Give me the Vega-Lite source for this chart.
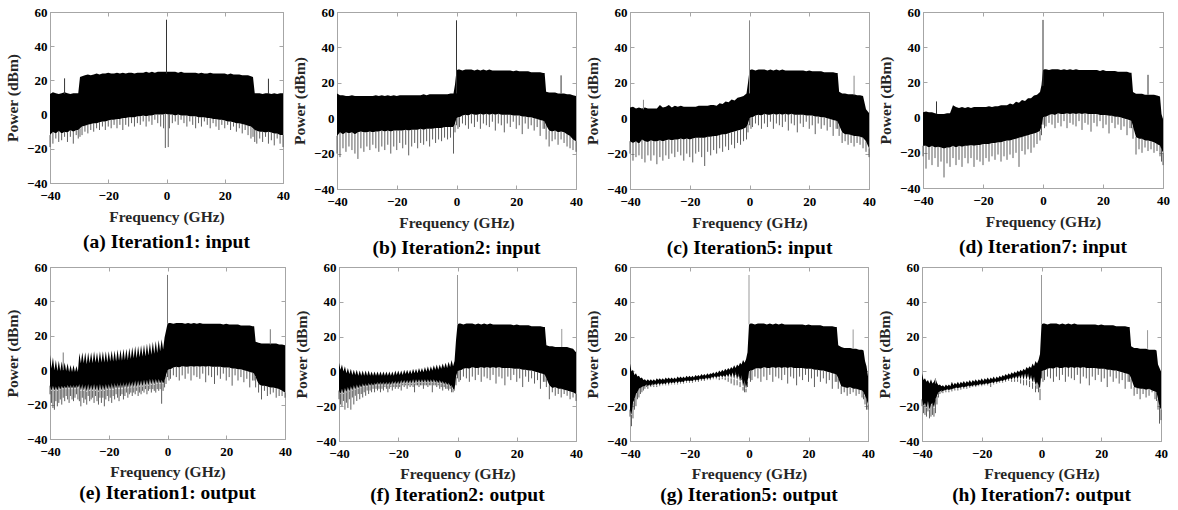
{
"$schema":"https://vega.github.io/schema/vega-lite/v6.json",
"padding":{"left":5,"top":5,"right":2,"bottom":0},
"config":{
 "view":{"stroke":"#a6a6a6","strokeWidth":1},
 "axis":{"labelFont":"Liberation Serif, Times New Roman, serif","labelFontWeight":"bold","labelFontSize":13,"labelColor":"#000","titleFont":"Liberation Serif, Times New Roman, serif","titleFontWeight":"bold","titleFontSize":15.5,"titleColor":"#262626","grid":false,"domainColor":"#a6a6a6","tickColor":"#a6a6a6","tickSize":-4,"labelFlush":false,"labelOverlap":false},
 "title":{"font":"Liberation Serif, Times New Roman, serif","fontSize":19.5,"fontWeight":"bold","color":"#000","offset":8}
},
"datasets":{
"tone":[
{"p":"a","f":0,"y1":24,"y2":55.5},{"p":"a","f":-35,"y1":12,"y2":21.2},{"p":"a","f":35,"y1":12,"y2":21},
{"p":"b","f":0,"y1":14,"y2":55.3},{"p":"b","f":35,"y1":14,"y2":24.2},
{"p":"c","f":0,"y1":14,"y2":55.3},{"p":"c","f":35,"y1":13,"y2":24},{"p":"c","f":-35.5,"y1":5,"y2":10.4},
{"p":"d","f":0,"y1":18,"y2":55.5},{"p":"d","f":35,"y1":13,"y2":24.3},{"p":"d","f":-35.5,"y1":2,"y2":9.2},
{"p":"e","f":0,"y1":27,"y2":55.4},{"p":"e","f":35,"y1":15,"y2":23.8},{"p":"e","f":-35.5,"y1":0,"y2":10.3},
{"p":"f","f":0,"y1":27,"y2":55.4},{"p":"f","f":35.2,"y1":14,"y2":24.4},
{"p":"g","f":0,"y1":27,"y2":55.4},{"p":"g","f":35,"y1":13,"y2":24.1},
{"p":"h","f":0,"y1":27,"y2":55.4},{"p":"h","f":35.5,"y1":13,"y2":23.7},{"p":"h","f":-35.5,"y1":-7,"y2":-4}
],
"band":[
{"p":"a","f":-40,"h":12,"l":-12,"s":-19},{"p":"a","f":-39,"h":13,"l":-10,"s":-17},{"p":"a","f":-38,"h":12.5,"l":-11,"s":-14},{"p":"a","f":-37,"h":12,"l":-9.5,"s":-16},{"p":"a","f":-36,"h":12.5,"l":-11,"s":-15},{"p":"a","f":-35,"h":13,"l":-10,"s":-13},{"p":"a","f":-34,"h":12.5,"l":-10.5,"s":-16},{"p":"a","f":-33,"h":12,"l":-9,"s":-13},{"p":"a","f":-32,"h":12.5,"l":-10,"s":-17},{"p":"a","f":-31,"h":12.5,"l":-9,"s":-12},{"p":"a","f":-30.3,"h":12.5,"l":-9,"s":-14},{"p":"a","f":-29.7,"h":22,"l":-8,"s":-13},{"p":"a","f":-29,"h":22.5,"l":-7,"s":-12},{"p":"a","f":-28,"h":23,"l":-6.5,"s":-10},{"p":"a","f":-27,"h":23.5,"l":-6,"s":-11},{"p":"a","f":-26,"h":23,"l":-5.5,"s":-9},{"p":"a","f":-25,"h":23.5,"l":-5,"s":-10},{"p":"a","f":-24,"h":24,"l":-5,"s":-8},{"p":"a","f":-23,"h":23.5,"l":-4.5,"s":-9},{"p":"a","f":-22,"h":24,"l":-4,"s":-7},{"p":"a","f":-21,"h":24,"l":-4,"s":-9},{"p":"a","f":-20,"h":24.5,"l":-3.5,"s":-7},{"p":"a","f":-19,"h":24,"l":-3,"s":-8},{"p":"a","f":-18,"h":24,"l":-3,"s":-6},{"p":"a","f":-17,"h":24.5,"l":-2.5,"s":-8},{"p":"a","f":-16,"h":24,"l":-2.5,"s":-6},{"p":"a","f":-15,"h":24.5,"l":-2,"s":-9},{"p":"a","f":-14,"h":24,"l":-2,"s":-6},{"p":"a","f":-13,"h":24.5,"l":-1.5,"s":-7},{"p":"a","f":-12,"h":24.5,"l":-1.5,"s":-5},{"p":"a","f":-11,"h":24,"l":-1.5,"s":-7},{"p":"a","f":-10,"h":24.5,"l":-1,"s":-5},{"p":"a","f":-9,"h":24.5,"l":-1,"s":-6},{"p":"a","f":-8,"h":24.5,"l":-0.5,"s":-4},{"p":"a","f":-7,"h":25,"l":-1,"s":-7},{"p":"a","f":-6,"h":24.5,"l":-0.5,"s":-4},{"p":"a","f":-5,"h":25,"l":-0.5,"s":-6},{"p":"a","f":-4,"h":24.5,"l":0,"s":-3},{"p":"a","f":-3,"h":25,"l":0,"s":-5},{"p":"a","f":-2,"h":25,"l":0,"s":-7},{"p":"a","f":-1,"h":25,"l":0,"s":-8},{"p":"a","f":-0.4,"h":25,"l":0.5,"s":-19.5},{"p":"a","f":0.6,"h":25,"l":0,"s":-19},{"p":"a","f":1,"h":25,"l":0,"s":-8},{"p":"a","f":2,"h":25,"l":0,"s":-5},{"p":"a","f":3,"h":25,"l":-0.5,"s":-4},{"p":"a","f":4,"h":24.5,"l":0,"s":-6},{"p":"a","f":5,"h":25,"l":-0.5,"s":-3},{"p":"a","f":6,"h":24.5,"l":-0.5,"s":-5},{"p":"a","f":7,"h":24.5,"l":-0.5,"s":-7},{"p":"a","f":8,"h":24.5,"l":-1,"s":-4},{"p":"a","f":9,"h":24.5,"l":-1,"s":-6},{"p":"a","f":10,"h":24.5,"l":-1,"s":-8},{"p":"a","f":11,"h":24,"l":-1.5,"s":-5},{"p":"a","f":12,"h":24.5,"l":-1.5,"s":-7},{"p":"a","f":13,"h":24,"l":-1.5,"s":-4},{"p":"a","f":14,"h":24,"l":-2,"s":-6},{"p":"a","f":15,"h":24.5,"l":-2,"s":-8},{"p":"a","f":16,"h":24,"l":-2.5,"s":-5},{"p":"a","f":17,"h":24,"l":-2.5,"s":-7},{"p":"a","f":18,"h":24,"l":-3,"s":-9},{"p":"a","f":19,"h":24,"l":-3,"s":-6},{"p":"a","f":20,"h":24,"l":-3.5,"s":-8},{"p":"a","f":21,"h":23.5,"l":-4,"s":-6},{"p":"a","f":22,"h":24,"l":-4,"s":-9},{"p":"a","f":23,"h":23.5,"l":-4.5,"s":-7},{"p":"a","f":24,"h":23.5,"l":-5,"s":-10},{"p":"a","f":25,"h":23.5,"l":-5,"s":-8},{"p":"a","f":26,"h":23,"l":-5.5,"s":-11},{"p":"a","f":27,"h":23,"l":-6,"s":-9},{"p":"a","f":28,"h":23,"l":-6.5,"s":-12},{"p":"a","f":29,"h":22.5,"l":-7,"s":-14},{"p":"a","f":29.7,"h":22,"l":-8,"s":-13},{"p":"a","f":30.3,"h":12.5,"l":-9,"s":-16},{"p":"a","f":31,"h":12.5,"l":-9.5,"s":-17},{"p":"a","f":32,"h":12.5,"l":-10,"s":-14},{"p":"a","f":33,"h":12,"l":-10,"s":-16},{"p":"a","f":34,"h":12.5,"l":-10.5,"s":-13},{"p":"a","f":35,"h":12.5,"l":-10,"s":-17},{"p":"a","f":36,"h":12,"l":-10.5,"s":-15},{"p":"a","f":37,"h":12.5,"l":-11,"s":-18},{"p":"a","f":38,"h":12,"l":-11,"s":-14},{"p":"a","f":39,"h":12.5,"l":-12,"s":-17},{"p":"a","f":40,"h":12.5,"l":-12,"s":-19},

{"p":"z","f":0,"h":27,"l":0,"s":-4},{"p":"z","f":0.5,"h":27.5,"l":0.5,"s":-6},{"p":"z","f":1,"h":27.5,"l":0.5,"s":-5},{"p":"z","f":2,"h":27,"l":1.5,"s":-3},{"p":"z","f":3,"h":27.5,"l":2,"s":-4},{"p":"z","f":4,"h":27.5,"l":1.5,"s":-6},{"p":"z","f":5,"h":27.5,"l":2.5,"s":-3},{"p":"z","f":6,"h":27,"l":2,"s":-5},{"p":"z","f":7,"h":27.5,"l":2,"s":-2},{"p":"z","f":8,"h":27,"l":2.5,"s":-6},{"p":"z","f":9,"h":27.5,"l":2,"s":-3},{"p":"z","f":10,"h":27,"l":2.5,"s":-4},{"p":"z","f":11,"h":27.5,"l":2,"s":-5},{"p":"z","f":12,"h":27,"l":2.5,"s":-2},{"p":"z","f":13,"h":27,"l":2,"s":-7},{"p":"z","f":14,"h":27,"l":2.5,"s":-3},{"p":"z","f":15,"h":27,"l":2,"s":-4},{"p":"z","f":16,"h":27,"l":2,"s":-8},{"p":"z","f":17,"h":27,"l":2,"s":-3},{"p":"z","f":18,"h":27,"l":2,"s":-5},{"p":"z","f":19,"h":26.5,"l":1.5,"s":-2},{"p":"z","f":20,"h":27,"l":1.5,"s":-6},{"p":"z","f":21,"h":26.5,"l":1.5,"s":-4},{"p":"z","f":22,"h":26.5,"l":1,"s":-9},{"p":"z","f":23,"h":26.5,"l":1,"s":-3},{"p":"z","f":24,"h":26.5,"l":0.5,"s":-6},{"p":"z","f":25,"h":26,"l":0.5,"s":-4},{"p":"z","f":26,"h":26,"l":0,"s":-7},{"p":"z","f":27,"h":26,"l":-0.5,"s":-5},{"p":"z","f":28,"h":26,"l":-1,"s":-10},{"p":"z","f":29,"h":25.5,"l":-1.5,"s":-6},{"p":"z","f":29.5,"h":25.5,"l":-2,"s":-6},

{"p":"b","f":-40,"h":14,"l":-10,"s":-20},{"p":"b","f":-39,"h":13,"l":-8,"s":-22},{"p":"b","f":-38,"h":13,"l":-9,"s":-17},{"p":"b","f":-37,"h":12.5,"l":-8,"s":-19},{"p":"b","f":-36,"h":12.5,"l":-8.5,"s":-16},{"p":"b","f":-35,"h":13,"l":-8,"s":-18},{"p":"b","f":-34,"h":12.5,"l":-9,"s":-20},{"p":"b","f":-33,"h":12.5,"l":-8,"s":-23},{"p":"b","f":-32,"h":12.5,"l":-7.5,"s":-17},{"p":"b","f":-31,"h":12.5,"l":-8,"s":-19},{"p":"b","f":-30,"h":12.5,"l":-8,"s":-16},{"p":"b","f":-29,"h":12.5,"l":-7.5,"s":-18},{"p":"b","f":-28,"h":12.5,"l":-8,"s":-15},{"p":"b","f":-27,"h":13,"l":-7.5,"s":-17},{"p":"b","f":-26,"h":12.5,"l":-7.5,"s":-19},{"p":"b","f":-25,"h":13,"l":-7,"s":-16},{"p":"b","f":-24,"h":12.5,"l":-7.5,"s":-18},{"p":"b","f":-23,"h":13,"l":-7,"s":-15},{"p":"b","f":-22,"h":12.5,"l":-7.5,"s":-20},{"p":"b","f":-21,"h":13,"l":-7,"s":-16},{"p":"b","f":-20,"h":12.5,"l":-7,"s":-18},{"p":"b","f":-19,"h":13,"l":-7,"s":-14},{"p":"b","f":-18,"h":13,"l":-7,"s":-17},{"p":"b","f":-17,"h":13,"l":-6.5,"s":-15},{"p":"b","f":-16,"h":13,"l":-7,"s":-21},{"p":"b","f":-15,"h":13,"l":-6.5,"s":-16},{"p":"b","f":-14,"h":13,"l":-6.5,"s":-14},{"p":"b","f":-13,"h":13,"l":-6.5,"s":-17},{"p":"b","f":-12,"h":13,"l":-6,"s":-14},{"p":"b","f":-11,"h":13.5,"l":-6.5,"s":-15},{"p":"b","f":-10,"h":13,"l":-6,"s":-13},{"p":"b","f":-9,"h":13.5,"l":-6,"s":-16},{"p":"b","f":-8,"h":13.5,"l":-6,"s":-12},{"p":"b","f":-7,"h":13.5,"l":-5.5,"s":-14},{"p":"b","f":-6,"h":13.5,"l":-5.5,"s":-12},{"p":"b","f":-5,"h":13.5,"l":-5.5,"s":-13},{"p":"b","f":-4,"h":13.5,"l":-5,"s":-11},{"p":"b","f":-3,"h":13.5,"l":-5,"s":-12},{"p":"b","f":-2,"h":14,"l":-5,"s":-11},{"p":"b","f":-1,"h":14,"l":-5,"s":-20},{"p":"b","f":-0.5,"h":19,"l":-3,"s":-8},
{"p":"b","f":30,"h":15,"l":-4,"s":-12},{"p":"b","f":31,"h":14.5,"l":-7,"s":-16},{"p":"b","f":32,"h":14.5,"l":-7.5,"s":-13},{"p":"b","f":33,"h":14.5,"l":-7,"s":-12},{"p":"b","f":34,"h":14,"l":-8,"s":-15},{"p":"b","f":35,"h":14,"l":-7.5,"s":-12},{"p":"b","f":36,"h":14,"l":-8,"s":-14},{"p":"b","f":37,"h":13.5,"l":-9,"s":-16},{"p":"b","f":38,"h":13.5,"l":-10,"s":-17},{"p":"b","f":39,"h":13,"l":-12,"s":-18},{"p":"b","f":40,"h":12.5,"l":-13,"s":-19},

{"p":"c","f":-40,"h":6,"l":-13,"s":-20},{"p":"c","f":-39,"h":6.5,"l":-14,"s":-24},{"p":"c","f":-38,"h":5.5,"l":-13,"s":-22},{"p":"c","f":-37,"h":6,"l":-14.5,"s":-21},{"p":"c","f":-36,"h":5.5,"l":-12,"s":-23},{"p":"c","f":-35,"h":6,"l":-13,"s":-25},{"p":"c","f":-34,"h":5.5,"l":-13.5,"s":-21},{"p":"c","f":-33,"h":5.5,"l":-12.5,"s":-24},{"p":"c","f":-32,"h":5.5,"l":-13,"s":-21},{"p":"c","f":-31,"h":5.5,"l":-13,"s":-26},{"p":"c","f":-30,"h":7.5,"l":-12.5,"s":-22},{"p":"c","f":-29,"h":6,"l":-13,"s":-24},{"p":"c","f":-28,"h":6.5,"l":-12.5,"s":-21},{"p":"c","f":-27,"h":7.5,"l":-12,"s":-23},{"p":"c","f":-26,"h":6,"l":-12.5,"s":-20},{"p":"c","f":-25,"h":7,"l":-12,"s":-22},{"p":"c","f":-24,"h":6.5,"l":-12,"s":-19},{"p":"c","f":-23,"h":7,"l":-11.5,"s":-21},{"p":"c","f":-22,"h":6.5,"l":-12,"s":-24},{"p":"c","f":-21,"h":6.5,"l":-11.5,"s":-20},{"p":"c","f":-20,"h":6.5,"l":-12,"s":-22},{"p":"c","f":-19,"h":6.5,"l":-11.5,"s":-25},{"p":"c","f":-18,"h":6.5,"l":-11,"s":-20},{"p":"c","f":-17,"h":7,"l":-11,"s":-19},{"p":"c","f":-16,"h":7,"l":-11,"s":-22},{"p":"c","f":-15,"h":7,"l":-11,"s":-27},{"p":"c","f":-14,"h":7,"l":-10.5,"s":-19},{"p":"c","f":-13,"h":7.5,"l":-10.5,"s":-21},{"p":"c","f":-12,"h":7.5,"l":-10,"s":-18},{"p":"c","f":-11,"h":7,"l":-10,"s":-20},{"p":"c","f":-10,"h":8.5,"l":-9.5,"s":-17},{"p":"c","f":-9,"h":8,"l":-9,"s":-19},{"p":"c","f":-8,"h":9.5,"l":-9,"s":-16},{"p":"c","f":-7,"h":9,"l":-8.5,"s":-18},{"p":"c","f":-6,"h":10.5,"l":-8,"s":-15},{"p":"c","f":-5,"h":10,"l":-7.5,"s":-17},{"p":"c","f":-4,"h":11.5,"l":-7,"s":-14},{"p":"c","f":-3,"h":12,"l":-6.5,"s":-15},{"p":"c","f":-2,"h":12.5,"l":-6,"s":-13},{"p":"c","f":-1,"h":14,"l":-5,"s":-12},{"p":"c","f":-0.5,"h":20,"l":-3,"s":-8},
{"p":"c","f":30,"h":15,"l":-4,"s":-10},{"p":"c","f":31,"h":14,"l":-8,"s":-14},{"p":"c","f":32,"h":14,"l":-9,"s":-13},{"p":"c","f":33,"h":13.5,"l":-9,"s":-15},{"p":"c","f":34,"h":13.5,"l":-9.5,"s":-14},{"p":"c","f":35,"h":13.5,"l":-10,"s":-16},{"p":"c","f":36,"h":13,"l":-10,"s":-14},{"p":"c","f":37,"h":13,"l":-10.5,"s":-15},{"p":"c","f":38,"h":12.5,"l":-11,"s":-17},{"p":"c","f":39,"h":5,"l":-13,"s":-19},{"p":"c","f":40,"h":3,"l":-17,"s":-22},

{"p":"d","f":-40,"h":3,"l":-16,"s":-22},{"p":"d","f":-39,"h":3.5,"l":-16,"s":-29},{"p":"d","f":-38,"h":3,"l":-17,"s":-24},{"p":"d","f":-37,"h":3,"l":-16,"s":-27},{"p":"d","f":-36,"h":2.5,"l":-17,"s":-23},{"p":"d","f":-35,"h":2,"l":-16.5,"s":-28},{"p":"d","f":-34,"h":2,"l":-17,"s":-25},{"p":"d","f":-33,"h":2,"l":-17.5,"s":-34},{"p":"d","f":-32,"h":2.5,"l":-17,"s":-26},{"p":"d","f":-31,"h":2.5,"l":-17,"s":-28},{"p":"d","f":-30,"h":7,"l":-16,"s":-23},{"p":"d","f":-29,"h":6,"l":-17,"s":-27},{"p":"d","f":-28,"h":5.5,"l":-16,"s":-24},{"p":"d","f":-27,"h":6,"l":-16.5,"s":-28},{"p":"d","f":-26,"h":5.5,"l":-16,"s":-23},{"p":"d","f":-25,"h":6,"l":-16,"s":-26},{"p":"d","f":-24,"h":5.5,"l":-15.5,"s":-23},{"p":"d","f":-23,"h":6,"l":-16,"s":-28},{"p":"d","f":-22,"h":6,"l":-15.5,"s":-24},{"p":"d","f":-21,"h":6,"l":-15.5,"s":-25},{"p":"d","f":-20,"h":6,"l":-15,"s":-27},{"p":"d","f":-19,"h":6,"l":-15,"s":-23},{"p":"d","f":-18,"h":6.5,"l":-15,"s":-25},{"p":"d","f":-17,"h":6,"l":-14.5,"s":-22},{"p":"d","f":-16,"h":6.5,"l":-14.5,"s":-24},{"p":"d","f":-15,"h":6.5,"l":-14,"s":-21},{"p":"d","f":-14,"h":7,"l":-14,"s":-25},{"p":"d","f":-13,"h":7,"l":-13.5,"s":-22},{"p":"d","f":-12,"h":7,"l":-13,"s":-24},{"p":"d","f":-11,"h":8,"l":-13,"s":-21},{"p":"d","f":-10,"h":7.5,"l":-12.5,"s":-23},{"p":"d","f":-9,"h":9,"l":-12,"s":-20},{"p":"d","f":-8,"h":8.5,"l":-11.5,"s":-28},{"p":"d","f":-7,"h":10,"l":-11,"s":-19},{"p":"d","f":-6,"h":9.5,"l":-10.5,"s":-21},{"p":"d","f":-5,"h":11,"l":-10,"s":-18},{"p":"d","f":-4,"h":11,"l":-9.5,"s":-20},{"p":"d","f":-3,"h":12.5,"l":-9,"s":-17},{"p":"d","f":-2,"h":13,"l":-8.5,"s":-15},{"p":"d","f":-1,"h":14.5,"l":-7.5,"s":-13},{"p":"d","f":-0.5,"h":18.5,"l":-5,"s":-10},
{"p":"d","f":30,"h":14.5,"l":-5,"s":-12},{"p":"d","f":31,"h":13.5,"l":-11,"s":-21},{"p":"d","f":32,"h":13.5,"l":-12,"s":-18},{"p":"d","f":33,"h":13.5,"l":-12,"s":-20},{"p":"d","f":34,"h":13,"l":-13,"s":-17},{"p":"d","f":35,"h":13,"l":-13,"s":-19},{"p":"d","f":36,"h":13,"l":-13.5,"s":-18},{"p":"d","f":37,"h":13,"l":-14,"s":-20},{"p":"d","f":38,"h":12.5,"l":-15,"s":-19},{"p":"d","f":39,"h":12,"l":-16,"s":-22},{"p":"d","f":39.5,"h":2,"l":-18,"s":-25},{"p":"d","f":40,"h":-1,"l":-20,"s":-27},

{"p":"e","f":-40,"h":9,"l":-9,"s":-14},{"p":"e","f":-39.5,"h":1,"l":-12,"s":-19},{"p":"e","f":-39,"h":7.5,"l":-9,"s":-22},{"p":"e","f":-38.5,"h":0,"l":-12,"s":-23},{"p":"e","f":-38,"h":6,"l":-9.5,"s":-18},{"p":"e","f":-37.5,"h":-0.5,"l":-12,"s":-21},{"p":"e","f":-37,"h":5.5,"l":-9,"s":-19},{"p":"e","f":-36.5,"h":-0.5,"l":-11.5,"s":-17},{"p":"e","f":-36,"h":5,"l":-9,"s":-20},{"p":"e","f":-35.5,"h":0,"l":-11,"s":-16},{"p":"e","f":-35,"h":4.5,"l":-9,"s":-18},{"p":"e","f":-34.5,"h":-0.5,"l":-11,"s":-15},{"p":"e","f":-34,"h":4,"l":-8.5,"s":-17},{"p":"e","f":-33.5,"h":-1,"l":-11,"s":-19},{"p":"e","f":-33,"h":3,"l":-8.5,"s":-15},{"p":"e","f":-32.5,"h":-1,"l":-11,"s":-17},{"p":"e","f":-32,"h":3,"l":-8.5,"s":-18},{"p":"e","f":-31.5,"h":-1,"l":-11,"s":-16},{"p":"e","f":-31,"h":2.5,"l":-8.5,"s":-14},{"p":"e","f":-30.5,"h":-1,"l":-10.5,"s":-17},{"p":"e","f":-30,"h":10,"l":-8,"s":-18},{"p":"e","f":-29.5,"h":4,"l":-12,"s":-21},{"p":"e","f":-29,"h":10.5,"l":-8,"s":-16},{"p":"e","f":-28.5,"h":4,"l":-12,"s":-19},{"p":"e","f":-28,"h":10.5,"l":-8.5,"s":-17},{"p":"e","f":-27.5,"h":3.5,"l":-12.5,"s":-20},{"p":"e","f":-27,"h":10.5,"l":-8,"s":-15},{"p":"e","f":-26.5,"h":4,"l":-12,"s":-18},{"p":"e","f":-26,"h":10.5,"l":-8.5,"s":-17},{"p":"e","f":-25.5,"h":4,"l":-12,"s":-16},{"p":"e","f":-25,"h":11,"l":-8,"s":-19},{"p":"e","f":-24.5,"h":4.5,"l":-12,"s":-15},{"p":"e","f":-24,"h":10.5,"l":-8.5,"s":-18},{"p":"e","f":-23.5,"h":4,"l":-12.5,"s":-20},{"p":"e","f":-23,"h":11,"l":-8,"s":-16},{"p":"e","f":-22.5,"h":4.5,"l":-12,"s":-19},{"p":"e","f":-22,"h":11,"l":-8.5,"s":-16},{"p":"e","f":-21.5,"h":4.5,"l":-12,"s":-21},{"p":"e","f":-21,"h":11,"l":-8,"s":-17},{"p":"e","f":-20.5,"h":4.5,"l":-11.5,"s":-15},{"p":"e","f":-20,"h":11,"l":-8,"s":-18},{"p":"e","f":-19.5,"h":5,"l":-11.5,"s":-16},{"p":"e","f":-19,"h":11.5,"l":-7.5,"s":-19},{"p":"e","f":-18.5,"h":5,"l":-11.5,"s":-15},{"p":"e","f":-18,"h":11.5,"l":-7.5,"s":-17},{"p":"e","f":-17.5,"h":5,"l":-11,"s":-14},{"p":"e","f":-17,"h":12,"l":-7.5,"s":-16},{"p":"e","f":-16.5,"h":5.5,"l":-11,"s":-18},{"p":"e","f":-16,"h":12,"l":-7,"s":-15},{"p":"e","f":-15.5,"h":5.5,"l":-11,"s":-14},{"p":"e","f":-15,"h":12.5,"l":-7,"s":-17},{"p":"e","f":-14.5,"h":6,"l":-10.5,"s":-15},{"p":"e","f":-14,"h":12.5,"l":-7,"s":-13},{"p":"e","f":-13.5,"h":6,"l":-10.5,"s":-16},{"p":"e","f":-13,"h":13,"l":-6.5,"s":-14},{"p":"e","f":-12.5,"h":6.5,"l":-10,"s":-13},{"p":"e","f":-12,"h":13.5,"l":-6.5,"s":-15},{"p":"e","f":-11.5,"h":7,"l":-10,"s":-13},{"p":"e","f":-11,"h":14,"l":-6,"s":-14},{"p":"e","f":-10.5,"h":7,"l":-10,"s":-12},{"p":"e","f":-10,"h":14,"l":-6,"s":-15},{"p":"e","f":-9.5,"h":7.5,"l":-9.5,"s":-13},{"p":"e","f":-9,"h":14.5,"l":-6,"s":-14},{"p":"e","f":-8.5,"h":8,"l":-9.5,"s":-12},{"p":"e","f":-8,"h":15,"l":-5.5,"s":-13},{"p":"e","f":-7.5,"h":8,"l":-9,"s":-11},{"p":"e","f":-7,"h":15.5,"l":-5.5,"s":-14},{"p":"e","f":-6.5,"h":8.5,"l":-9,"s":-12},{"p":"e","f":-6,"h":16,"l":-5,"s":-11},{"p":"e","f":-5.5,"h":9,"l":-8.5,"s":-13},{"p":"e","f":-5,"h":16.5,"l":-5,"s":-11},{"p":"e","f":-4.5,"h":9.5,"l":-8.5,"s":-12},{"p":"e","f":-4,"h":17,"l":-5,"s":-13},{"p":"e","f":-3.5,"h":10,"l":-8,"s":-11},{"p":"e","f":-3,"h":17.5,"l":-5,"s":-12},{"p":"e","f":-2.5,"h":11,"l":-8,"s":-11},{"p":"e","f":-2,"h":18,"l":-5.5,"s":-19.5},{"p":"e","f":-1.5,"h":12,"l":-8,"s":-12},{"p":"e","f":-1,"h":19,"l":-6,"s":-10},{"p":"e","f":-0.5,"h":23,"l":-3,"s":-8},
{"p":"e","f":30,"h":16.5,"l":-4,"s":-10},{"p":"e","f":31,"h":16,"l":-8,"s":-13},{"p":"e","f":32,"h":15.5,"l":-9,"s":-17},{"p":"e","f":33,"h":15.5,"l":-9,"s":-12},{"p":"e","f":34,"h":15.5,"l":-9.5,"s":-15},{"p":"e","f":35,"h":15.5,"l":-10,"s":-14},{"p":"e","f":36,"h":15.5,"l":-10,"s":-13},{"p":"e","f":37,"h":15.5,"l":-10.5,"s":-16},{"p":"e","f":38,"h":15,"l":-11,"s":-15},{"p":"e","f":39,"h":15,"l":-12,"s":-15},{"p":"e","f":40,"h":14.5,"l":-13,"s":-16},

{"p":"f","f":-40,"h":5,"l":-11,"s":-16},{"p":"f","f":-39.5,"h":1,"l":-13,"s":-19},{"p":"f","f":-39,"h":4,"l":-10,"s":-20},{"p":"f","f":-38.5,"h":0,"l":-13,"s":-17},{"p":"f","f":-38,"h":3,"l":-9.5,"s":-22},{"p":"f","f":-37.5,"h":-1,"l":-12,"s":-18},{"p":"f","f":-37,"h":2,"l":-9,"s":-21},{"p":"f","f":-36.5,"h":-1.5,"l":-11.5,"s":-16},{"p":"f","f":-36,"h":1.5,"l":-8.5,"s":-22},{"p":"f","f":-35.5,"h":-2,"l":-11,"s":-15},{"p":"f","f":-35,"h":1,"l":-8,"s":-19},{"p":"f","f":-34.5,"h":-2,"l":-10.5,"s":-14},{"p":"f","f":-34,"h":1,"l":-7.5,"s":-17},{"p":"f","f":-33.5,"h":-2.5,"l":-10,"s":-13},{"p":"f","f":-33,"h":0.5,"l":-7.5,"s":-16},{"p":"f","f":-32.5,"h":-2.5,"l":-9.5,"s":-13},{"p":"f","f":-32,"h":0.5,"l":-7,"s":-15},{"p":"f","f":-31.5,"h":-2.5,"l":-9,"s":-12},{"p":"f","f":-31,"h":0.5,"l":-7,"s":-14},{"p":"f","f":-30.5,"h":-2.5,"l":-9,"s":-11},{"p":"f","f":-30,"h":0.5,"l":-6.5,"s":-13},{"p":"f","f":-29.5,"h":-2.5,"l":-8.5,"s":-11},{"p":"f","f":-29,"h":0,"l":-6.5,"s":-12},{"p":"f","f":-28.5,"h":-2.5,"l":-8.5,"s":-10},{"p":"f","f":-28,"h":0,"l":-6.5,"s":-12},{"p":"f","f":-27.5,"h":-2.5,"l":-8,"s":-10},{"p":"f","f":-27,"h":0,"l":-6,"s":-11},{"p":"f","f":-26.5,"h":-2.5,"l":-8,"s":-10},{"p":"f","f":-26,"h":0,"l":-6,"s":-12},{"p":"f","f":-25.5,"h":-2.5,"l":-8,"s":-10},{"p":"f","f":-25,"h":0,"l":-6,"s":-11},{"p":"f","f":-24.5,"h":-2.5,"l":-8,"s":-9},{"p":"f","f":-24,"h":0,"l":-6,"s":-10},{"p":"f","f":-23.5,"h":-2.5,"l":-8,"s":-12},{"p":"f","f":-23,"h":0,"l":-6,"s":-10},{"p":"f","f":-22.5,"h":-2.5,"l":-8,"s":-9},{"p":"f","f":-22,"h":0,"l":-5.5,"s":-11},{"p":"f","f":-21.5,"h":-2.5,"l":-7.5,"s":-9},{"p":"f","f":-21,"h":0.5,"l":-5.5,"s":-10},{"p":"f","f":-20.5,"h":-2,"l":-7.5,"s":-9},{"p":"f","f":-20,"h":0.5,"l":-5.5,"s":-10},{"p":"f","f":-19.5,"h":-2,"l":-7.5,"s":-9},{"p":"f","f":-19,"h":0.5,"l":-5,"s":-11},{"p":"f","f":-18.5,"h":-2,"l":-7,"s":-8},{"p":"f","f":-18,"h":1,"l":-5,"s":-9},{"p":"f","f":-17.5,"h":-1.5,"l":-7,"s":-8},{"p":"f","f":-17,"h":1,"l":-5,"s":-10},{"p":"f","f":-16.5,"h":-1.5,"l":-7,"s":-8},{"p":"f","f":-16,"h":1,"l":-5,"s":-9},{"p":"f","f":-15.5,"h":-1.5,"l":-7,"s":-8},{"p":"f","f":-15,"h":1.5,"l":-4.5,"s":-9},{"p":"f","f":-14.5,"h":-1,"l":-7,"s":-12},{"p":"f","f":-14,"h":1.5,"l":-4.5,"s":-8},{"p":"f","f":-13.5,"h":-1,"l":-6.5,"s":-8},{"p":"f","f":-13,"h":2,"l":-4.5,"s":-9},{"p":"f","f":-12.5,"h":-0.5,"l":-6.5,"s":-8},{"p":"f","f":-12,"h":2,"l":-4.5,"s":-8},{"p":"f","f":-11.5,"h":-0.5,"l":-6.5,"s":-10},{"p":"f","f":-11,"h":2.5,"l":-4.5,"s":-8},{"p":"f","f":-10.5,"h":0,"l":-6.5,"s":-8},{"p":"f","f":-10,"h":3,"l":-4.5,"s":-9},{"p":"f","f":-9.5,"h":0,"l":-6.5,"s":-8},{"p":"f","f":-9,"h":3,"l":-4.5,"s":-8},{"p":"f","f":-8.5,"h":0.5,"l":-6.5,"s":-12},{"p":"f","f":-8,"h":3.5,"l":-4.5,"s":-8},{"p":"f","f":-7.5,"h":1,"l":-6.5,"s":-8},{"p":"f","f":-7,"h":4,"l":-5,"s":-9},{"p":"f","f":-6.5,"h":1,"l":-7,"s":-8},{"p":"f","f":-6,"h":4,"l":-5,"s":-10},{"p":"f","f":-5.5,"h":1.5,"l":-7,"s":-9},{"p":"f","f":-5,"h":4.5,"l":-5.5,"s":-11},{"p":"f","f":-4.5,"h":2,"l":-7.5,"s":-9},{"p":"f","f":-4,"h":5,"l":-6,"s":-10},{"p":"f","f":-3.5,"h":2,"l":-8,"s":-10},{"p":"f","f":-3,"h":5.5,"l":-6.5,"s":-11},{"p":"f","f":-2.5,"h":2.5,"l":-8.5,"s":-10},{"p":"f","f":-2,"h":6.5,"l":-8,"s":-12},{"p":"f","f":-1.5,"h":3,"l":-10,"s":-12},{"p":"f","f":-1,"h":6,"l":-10.5,"s":-11},{"p":"f","f":-0.5,"h":18,"l":-3,"s":-8},
{"p":"f","f":30,"h":15,"l":-4,"s":-9},{"p":"f","f":31,"h":14.5,"l":-8,"s":-16},{"p":"f","f":32,"h":14.5,"l":-9.5,"s":-12},{"p":"f","f":33,"h":14,"l":-9,"s":-14},{"p":"f","f":34,"h":14,"l":-10,"s":-13},{"p":"f","f":35,"h":14,"l":-10,"s":-15},{"p":"f","f":36,"h":14,"l":-10.5,"s":-13},{"p":"f","f":37,"h":14,"l":-11,"s":-14},{"p":"f","f":38,"h":13.5,"l":-11.5,"s":-16},{"p":"f","f":39,"h":13,"l":-12,"s":-15},{"p":"f","f":40,"h":11,"l":-13,"s":-17},

{"p":"g","f":-40,"h":4.5,"l":-22,"s":-26},{"p":"g","f":-39.5,"h":0,"l":-25,"s":-31.5},{"p":"g","f":-39,"h":1,"l":-18,"s":-27},{"p":"g","f":-38.5,"h":-2,"l":-16,"s":-22},{"p":"g","f":-38,"h":-1,"l":-13,"s":-20},{"p":"g","f":-37.5,"h":-3,"l":-12,"s":-16},{"p":"g","f":-37,"h":-2.5,"l":-10,"s":-15},{"p":"g","f":-36.5,"h":-4,"l":-9.5,"s":-13},{"p":"g","f":-36,"h":-3.5,"l":-9,"s":-12},{"p":"g","f":-35.5,"h":-5,"l":-8.5,"s":-11},{"p":"g","f":-35,"h":-4.5,"l":-8.5,"s":-10},{"p":"g","f":-34.5,"h":-5.5,"l":-7.5,"s":-9},{"p":"g","f":-34,"h":-4.5,"l":-8.5,"s":-10},{"p":"g","f":-33.5,"h":-5.5,"l":-7.5,"s":-8},{"p":"g","f":-33,"h":-4.5,"l":-8.5,"s":-9},{"p":"g","f":-32.5,"h":-5.5,"l":-7,"s":-8},{"p":"g","f":-32,"h":-4.5,"l":-8,"s":-9},{"p":"g","f":-31.5,"h":-5.5,"l":-7,"s":-7.5},{"p":"g","f":-31,"h":-4,"l":-8,"s":-9},{"p":"g","f":-30.5,"h":-5,"l":-6.5,"s":-7},{"p":"g","f":-30,"h":-4,"l":-8,"s":-8.5},{"p":"g","f":-29.5,"h":-5,"l":-6.5,"s":-7},{"p":"g","f":-29,"h":-4,"l":-7.5,"s":-8},{"p":"g","f":-28.5,"h":-5,"l":-6.5,"s":-7},{"p":"g","f":-28,"h":-3.5,"l":-7.5,"s":-8},{"p":"g","f":-27.5,"h":-4.5,"l":-6,"s":-6.5},{"p":"g","f":-27,"h":-3.5,"l":-7.5,"s":-8},{"p":"g","f":-26.5,"h":-4.5,"l":-6,"s":-6.5},{"p":"g","f":-26,"h":-3.5,"l":-7,"s":-7.5},{"p":"g","f":-25.5,"h":-4.5,"l":-6,"s":-6.5},{"p":"g","f":-25,"h":-3.5,"l":-7,"s":-7.5},{"p":"g","f":-24.5,"h":-4.5,"l":-5.5,"s":-6},{"p":"g","f":-24,"h":-3,"l":-7,"s":-7.5},{"p":"g","f":-23.5,"h":-4,"l":-5.5,"s":-6},{"p":"g","f":-23,"h":-3,"l":-6.5,"s":-7},{"p":"g","f":-22.5,"h":-4,"l":-5.5,"s":-6},{"p":"g","f":-22,"h":-3,"l":-6.5,"s":-7},{"p":"g","f":-21.5,"h":-4,"l":-5,"s":-5.5},{"p":"g","f":-21,"h":-2.5,"l":-6,"s":-6.5},{"p":"g","f":-20.5,"h":-3.5,"l":-5,"s":-5.5},{"p":"g","f":-20,"h":-2.5,"l":-6,"s":-6.5},{"p":"g","f":-19.5,"h":-3.5,"l":-5,"s":-5.5},{"p":"g","f":-19,"h":-2.5,"l":-6,"s":-6.5},{"p":"g","f":-18.5,"h":-3.5,"l":-4.5,"s":-5},{"p":"g","f":-18,"h":-2,"l":-5.5,"s":-6},{"p":"g","f":-17.5,"h":-3,"l":-4.5,"s":-5},{"p":"g","f":-17,"h":-2,"l":-5.5,"s":-6},{"p":"g","f":-16.5,"h":-3,"l":-4,"s":-4.5},{"p":"g","f":-16,"h":-1.5,"l":-5,"s":-5.5},{"p":"g","f":-15.5,"h":-2.5,"l":-4,"s":-4.5},{"p":"g","f":-15,"h":-1.5,"l":-5,"s":-5.5},{"p":"g","f":-14.5,"h":-2.5,"l":-3.5,"s":-4},{"p":"g","f":-14,"h":-1,"l":-4.5,"s":-5},{"p":"g","f":-13.5,"h":-2,"l":-3.5,"s":-4},{"p":"g","f":-13,"h":-1,"l":-4.5,"s":-5},{"p":"g","f":-12.5,"h":-1.5,"l":-3,"s":-3.5},{"p":"g","f":-12,"h":-0.5,"l":-4,"s":-4.5},{"p":"g","f":-11.5,"h":-1.5,"l":-2.5,"s":-3},{"p":"g","f":-11,"h":0,"l":-4,"s":-4.5},{"p":"g","f":-10.5,"h":-1,"l":-2.5,"s":-3},{"p":"g","f":-10,"h":0.5,"l":-3.5,"s":-5},{"p":"g","f":-9.5,"h":-0.5,"l":-2,"s":-2.5},{"p":"g","f":-9,"h":1,"l":-3.5,"s":-4.5},{"p":"g","f":-8.5,"h":0,"l":-2,"s":-2.5},{"p":"g","f":-8,"h":1.5,"l":-3.5,"s":-5},{"p":"g","f":-7.5,"h":0.5,"l":-1.5,"s":-2},{"p":"g","f":-7,"h":2,"l":-3.5,"s":-6},{"p":"g","f":-6.5,"h":1,"l":-1,"s":-1.5},{"p":"g","f":-6,"h":2.5,"l":-4,"s":-7},{"p":"g","f":-5.5,"h":1.5,"l":-0.5,"s":-1},{"p":"g","f":-5,"h":3.5,"l":-4.5,"s":-8},{"p":"g","f":-4.5,"h":2,"l":0,"s":-2},{"p":"g","f":-4,"h":4,"l":-5,"s":-8},{"p":"g","f":-3.5,"h":3,"l":-1,"s":-3},{"p":"g","f":-3,"h":5,"l":-6,"s":-9},{"p":"g","f":-2.5,"h":4,"l":-2,"s":-5},{"p":"g","f":-2,"h":6.5,"l":-9,"s":-11},{"p":"g","f":-1.5,"h":5,"l":-5,"s":-12},{"p":"g","f":-1,"h":7,"l":-10,"s":-12},{"p":"g","f":-0.5,"h":11,"l":-6,"s":-9},
{"p":"g","f":30,"h":15,"l":-4,"s":-10},{"p":"g","f":31,"h":14,"l":-8.5,"s":-13},{"p":"g","f":32,"h":13.5,"l":-9,"s":-12},{"p":"g","f":33,"h":13.5,"l":-9.5,"s":-14},{"p":"g","f":34,"h":13.5,"l":-9,"s":-13},{"p":"g","f":35,"h":13,"l":-10,"s":-12},{"p":"g","f":36,"h":13,"l":-10,"s":-14},{"p":"g","f":37,"h":12.5,"l":-10.5,"s":-13},{"p":"g","f":38,"h":12.5,"l":-11,"s":-15},{"p":"g","f":38.5,"h":12,"l":-12,"s":-16},{"p":"g","f":39,"h":6,"l":-14,"s":-19},{"p":"g","f":39.5,"h":3,"l":-16,"s":-22},{"p":"g","f":40,"h":-3,"l":-19,"s":-22},

{"p":"h","f":-40,"h":-1,"l":-16,"s":-20},{"p":"h","f":-39.5,"h":-5,"l":-20,"s":-24},{"p":"h","f":-39,"h":-4,"l":-18,"s":-25},{"p":"h","f":-38.5,"h":-6,"l":-21,"s":-26},{"p":"h","f":-38,"h":-5,"l":-17,"s":-23},{"p":"h","f":-37.5,"h":-7,"l":-22,"s":-27},{"p":"h","f":-37,"h":-4.5,"l":-19,"s":-26},{"p":"h","f":-36.5,"h":-7,"l":-18,"s":-25},{"p":"h","f":-36,"h":-6,"l":-21,"s":-26},{"p":"h","f":-35.5,"h":-4,"l":-16,"s":-24},{"p":"h","f":-35,"h":-6.5,"l":-14,"s":-19},{"p":"h","f":-34.5,"h":-8,"l":-12,"s":-15},{"p":"h","f":-34,"h":-7.5,"l":-11.5,"s":-13},{"p":"h","f":-33.5,"h":-8.5,"l":-11,"s":-12},{"p":"h","f":-33,"h":-8,"l":-11.5,"s":-12.5},{"p":"h","f":-32.5,"h":-9,"l":-10.5,"s":-11},{"p":"h","f":-32,"h":-7.5,"l":-11,"s":-12},{"p":"h","f":-31.5,"h":-8.5,"l":-10,"s":-10.5},{"p":"h","f":-31,"h":-7.5,"l":-11,"s":-12},{"p":"h","f":-30.5,"h":-8.5,"l":-10,"s":-10.5},{"p":"h","f":-30,"h":-6,"l":-10.5,"s":-11.5},{"p":"h","f":-29.5,"h":-8,"l":-9.5,"s":-10},{"p":"h","f":-29,"h":-6.5,"l":-10,"s":-11},{"p":"h","f":-28.5,"h":-7.5,"l":-9,"s":-9.5},{"p":"h","f":-28,"h":-6,"l":-10,"s":-11},{"p":"h","f":-27.5,"h":-7.5,"l":-9,"s":-9.5},{"p":"h","f":-27,"h":-6,"l":-9.5,"s":-10.5},{"p":"h","f":-26.5,"h":-7,"l":-8.5,"s":-9},{"p":"h","f":-26,"h":-5.5,"l":-9.5,"s":-10},{"p":"h","f":-25.5,"h":-7,"l":-8.5,"s":-9},{"p":"h","f":-25,"h":-5.5,"l":-9,"s":-10},{"p":"h","f":-24.5,"h":-6.5,"l":-8,"s":-8.5},{"p":"h","f":-24,"h":-5,"l":-9,"s":-9.5},{"p":"h","f":-23.5,"h":-6.5,"l":-8,"s":-8.5},{"p":"h","f":-23,"h":-5,"l":-8.5,"s":-9},{"p":"h","f":-22.5,"h":-6,"l":-7.5,"s":-8},{"p":"h","f":-22,"h":-4.5,"l":-8.5,"s":-9},{"p":"h","f":-21.5,"h":-6,"l":-7.5,"s":-8},{"p":"h","f":-21,"h":-4.5,"l":-8,"s":-8.5},{"p":"h","f":-20.5,"h":-5.5,"l":-7,"s":-7.5},{"p":"h","f":-20,"h":-4,"l":-8,"s":-8.5},{"p":"h","f":-19.5,"h":-5.5,"l":-7,"s":-7.5},{"p":"h","f":-19,"h":-4,"l":-7.5,"s":-8},{"p":"h","f":-18.5,"h":-5,"l":-6.5,"s":-7},{"p":"h","f":-18,"h":-3.5,"l":-7.5,"s":-8},{"p":"h","f":-17.5,"h":-5,"l":-6.5,"s":-7},{"p":"h","f":-17,"h":-3.5,"l":-7,"s":-9},{"p":"h","f":-16.5,"h":-4.5,"l":-6,"s":-6.5},{"p":"h","f":-16,"h":-3,"l":-7,"s":-7.5},{"p":"h","f":-15.5,"h":-4.5,"l":-5.5,"s":-6},{"p":"h","f":-15,"h":-3,"l":-6.5,"s":-7},{"p":"h","f":-14.5,"h":-4,"l":-5.5,"s":-6},{"p":"h","f":-14,"h":-2.5,"l":-6,"s":-6.5},{"p":"h","f":-13.5,"h":-3.5,"l":-5,"s":-5.5},{"p":"h","f":-13,"h":-2,"l":-6,"s":-6.5},{"p":"h","f":-12.5,"h":-3,"l":-4.5,"s":-5},{"p":"h","f":-12,"h":-1.5,"l":-5.5,"s":-6},{"p":"h","f":-11.5,"h":-2.5,"l":-4,"s":-4.5},{"p":"h","f":-11,"h":-1,"l":-5,"s":-5.5},{"p":"h","f":-10.5,"h":-2,"l":-3.5,"s":-4},{"p":"h","f":-10,"h":-0.5,"l":-5,"s":-6},{"p":"h","f":-9.5,"h":-1.5,"l":-3,"s":-3.5},{"p":"h","f":-9,"h":0,"l":-4.5,"s":-6},{"p":"h","f":-8.5,"h":-1,"l":-2.5,"s":-3},{"p":"h","f":-8,"h":0.5,"l":-4.5,"s":-6},{"p":"h","f":-7.5,"h":-0.5,"l":-2,"s":-2.5},{"p":"h","f":-7,"h":1,"l":-4.5,"s":-7},{"p":"h","f":-6.5,"h":0,"l":-1.5,"s":-2},{"p":"h","f":-6,"h":1.5,"l":-5,"s":-8},{"p":"h","f":-5.5,"h":0.5,"l":-1,"s":-1.5},{"p":"h","f":-5,"h":2.5,"l":-5,"s":-8},{"p":"h","f":-4.5,"h":1.5,"l":-1,"s":-3},{"p":"h","f":-4,"h":3,"l":-5.5,"s":-9},{"p":"h","f":-3.5,"h":2,"l":-2,"s":-4},{"p":"h","f":-3,"h":4.5,"l":-6.5,"s":-10},{"p":"h","f":-2.5,"h":3,"l":-3,"s":-6},{"p":"h","f":-2,"h":6,"l":-8,"s":-12},{"p":"h","f":-1.5,"h":4.5,"l":-6,"s":-10},{"p":"h","f":-1,"h":6.5,"l":-8,"s":-12},{"p":"h","f":-0.5,"h":10,"l":-10,"s":-16.5},
{"p":"h","f":30,"h":14.5,"l":-4,"s":-10},{"p":"h","f":31,"h":13.5,"l":-9,"s":-14},{"p":"h","f":32,"h":13.5,"l":-9.5,"s":-13},{"p":"h","f":33,"h":13,"l":-10,"s":-16},{"p":"h","f":34,"h":13,"l":-10,"s":-13},{"p":"h","f":35,"h":13,"l":-10.5,"s":-15},{"p":"h","f":36,"h":12.5,"l":-10,"s":-14},{"p":"h","f":37,"h":12.5,"l":-11,"s":-12},{"p":"h","f":38,"h":12.5,"l":-11.5,"s":-16},{"p":"h","f":38.5,"h":12,"l":-12,"s":-17},{"p":"h","f":39,"h":4,"l":-16,"s":-22},{"p":"h","f":39.5,"h":2,"l":-20,"s":-30},{"p":"h","f":40,"h":0,"l":-22,"s":-28}
]
},
"vconcat":[
{"hconcat":[
{"width":233,"height":171,"title":{"text":"(a) Iteration1: input","orient":"bottom"},"resolve":{"axis":{"x":"independent","y":"independent"}},"layer":[
{"data":{"name":"band"},"transform":[{"filter":"datum.p=='a'"}],"mark":{"type":"rule","color":"#4d4d4d","strokeWidth":0.9},"encoding":{"x":{"field":"f","type":"quantitative","scale":{"domain":[-40,40],"nice":false,"zero":false},"axis":{"orient":"bottom","values":[-40,-20,0,20,40],"title":"Frequency (GHz)","labelPadding":10,"titlePadding":7}},"y":{"field":"l","type":"quantitative","scale":{"domain":[-40,60],"nice":false,"zero":false},"axis":{"orient":"left","values":[-40,-20,0,20,40,60],"title":"Power (dBm)","labelPadding":7,"titlePadding":6}},"y2":{"field":"s"}}},
{"data":{"name":"band"},"transform":[{"filter":"datum.p=='a'"}],"mark":{"type":"area","color":"#000","interpolate":"linear"},"encoding":{"x":{"field":"f","type":"quantitative","axis":{"orient":"top","values":[-40,-20,0,20,40],"labels":false,"title":null}},"y":{"field":"h","type":"quantitative","axis":{"orient":"right","values":[-40,-20,0,20,40,60],"labels":false,"title":null}},"y2":{"field":"l"}}},
{"data":{"name":"tone"},"transform":[{"filter":"datum.p=='a'"}],"mark":{"type":"rule","color":"#333","strokeWidth":1},"encoding":{"x":{"field":"f","type":"quantitative","axis":null},"y":{"field":"y1","type":"quantitative","axis":null},"y2":{"field":"y2"}}}
]},
{"width":239,"height":177,"title":{"text":"(b) Iteration2: input","orient":"bottom"},"resolve":{"axis":{"x":"independent","y":"independent"}},"layer":[
{"data":{"name":"band"},"transform":[{"filter":"datum.p=='b'||datum.p=='z'"}],"mark":{"type":"rule","color":"#4d4d4d","strokeWidth":0.9},"encoding":{"x":{"field":"f","type":"quantitative","scale":{"domain":[-40,40],"nice":false,"zero":false},"axis":{"orient":"bottom","values":[-40,-20,0,20,40],"title":"Frequency (GHz)","labelPadding":10,"titlePadding":7}},"y":{"field":"l","type":"quantitative","scale":{"domain":[-40,60],"nice":false,"zero":false},"axis":{"orient":"left","values":[-40,-20,0,20,40,60],"title":"Power (dBm)","labelPadding":7,"titlePadding":6}},"y2":{"field":"s"}}},
{"data":{"name":"band"},"transform":[{"filter":"datum.p=='b'||datum.p=='z'"}],"mark":{"type":"area","color":"#000","interpolate":"linear"},"encoding":{"x":{"field":"f","type":"quantitative","axis":{"orient":"top","values":[-40,-20,0,20,40],"labels":false,"title":null}},"y":{"field":"h","type":"quantitative","axis":{"orient":"right","values":[-40,-20,0,20,40,60],"labels":false,"title":null}},"y2":{"field":"l"}}},
{"data":{"name":"tone"},"transform":[{"filter":"datum.p=='b'"}],"mark":{"type":"rule","color":"#333","strokeWidth":1},"encoding":{"x":{"field":"f","type":"quantitative","axis":null},"y":{"field":"y1","type":"quantitative","axis":null},"y2":{"field":"y2"}}}
]},
{"width":239,"height":177,"title":{"text":"(c) Iteration5: input","orient":"bottom"},"resolve":{"axis":{"x":"independent","y":"independent"}},"layer":[
{"data":{"name":"band"},"transform":[{"filter":"datum.p=='c'||datum.p=='z'"}],"mark":{"type":"rule","color":"#4d4d4d","strokeWidth":0.9},"encoding":{"x":{"field":"f","type":"quantitative","scale":{"domain":[-40,40],"nice":false,"zero":false},"axis":{"orient":"bottom","values":[-40,-20,0,20,40],"title":"Frequency (GHz)","labelPadding":10,"titlePadding":7}},"y":{"field":"l","type":"quantitative","scale":{"domain":[-40,60],"nice":false,"zero":false},"axis":{"orient":"left","values":[-40,-20,0,20,40,60],"title":"Power (dBm)","labelPadding":7,"titlePadding":6}},"y2":{"field":"s"}}},
{"data":{"name":"band"},"transform":[{"filter":"datum.p=='c'||datum.p=='z'"}],"mark":{"type":"area","color":"#000","interpolate":"linear"},"encoding":{"x":{"field":"f","type":"quantitative","axis":{"orient":"top","values":[-40,-20,0,20,40],"labels":false,"title":null}},"y":{"field":"h","type":"quantitative","axis":{"orient":"right","values":[-40,-20,0,20,40,60],"labels":false,"title":null}},"y2":{"field":"l"}}},
{"data":{"name":"tone"},"transform":[{"filter":"datum.p=='c'"}],"mark":{"type":"rule","color":"#888","strokeWidth":1},"encoding":{"x":{"field":"f","type":"quantitative","axis":null},"y":{"field":"y1","type":"quantitative","axis":null},"y2":{"field":"y2"}}}
]},
{"width":240,"height":176,"title":{"text":"(d) Iteration7: input","orient":"bottom"},"resolve":{"axis":{"x":"independent","y":"independent"}},"layer":[
{"data":{"name":"band"},"transform":[{"filter":"datum.p=='d'||datum.p=='z'"}],"mark":{"type":"rule","color":"#4d4d4d","strokeWidth":0.9},"encoding":{"x":{"field":"f","type":"quantitative","scale":{"domain":[-40,40],"nice":false,"zero":false},"axis":{"orient":"bottom","values":[-40,-20,0,20,40],"title":"Frequency (GHz)","labelPadding":10,"titlePadding":7}},"y":{"field":"l","type":"quantitative","scale":{"domain":[-40,60],"nice":false,"zero":false},"axis":{"orient":"left","values":[-40,-20,0,20,40,60],"title":"Power (dBm)","labelPadding":7,"titlePadding":6}},"y2":{"field":"s"}}},
{"data":{"name":"band"},"transform":[{"filter":"datum.p=='d'||datum.p=='z'"}],"mark":{"type":"area","color":"#000","interpolate":"linear"},"encoding":{"x":{"field":"f","type":"quantitative","axis":{"orient":"top","values":[-40,-20,0,20,40],"labels":false,"title":null}},"y":{"field":"h","type":"quantitative","axis":{"orient":"right","values":[-40,-20,0,20,40,60],"labels":false,"title":null}},"y2":{"field":"l"}}},
{"data":{"name":"tone"},"transform":[{"filter":"datum.p=='d'"}],"mark":{"type":"rule","color":"#333","strokeWidth":1},"encoding":{"x":{"field":"f","type":"quantitative","axis":null},"y":{"field":"y1","type":"quantitative","axis":null},"y2":{"field":"y2"}}}
]}
],"spacing":2},
{"hconcat":[
{"width":235,"height":172,"title":{"text":"(e) Iteration1: output","orient":"bottom","offset":4},"resolve":{"axis":{"x":"independent","y":"independent"}},"layer":[
{"data":{"name":"band"},"transform":[{"filter":"datum.p=='e'||datum.p=='z'"}],"mark":{"type":"rule","color":"#4d4d4d","strokeWidth":0.9},"encoding":{"x":{"field":"f","type":"quantitative","scale":{"domain":[-40,40],"nice":false,"zero":false},"axis":{"orient":"bottom","values":[-40,-20,0,20,40],"title":"Frequency (GHz)","labelPadding":10,"titlePadding":6}},"y":{"field":"l","type":"quantitative","scale":{"domain":[-40,60],"nice":false,"zero":false},"axis":{"orient":"left","values":[-40,-20,0,20,40,60],"title":"Power (dBm)","labelPadding":7,"titlePadding":6}},"y2":{"field":"s"}}},
{"data":{"name":"band"},"transform":[{"filter":"datum.p=='e'||datum.p=='z'"}],"mark":{"type":"area","color":"#000","interpolate":"linear"},"encoding":{"x":{"field":"f","type":"quantitative","axis":{"orient":"top","values":[-40,-20,0,20,40],"labels":false,"title":null}},"y":{"field":"h","type":"quantitative","axis":{"orient":"right","values":[-40,-20,0,20,40,60],"labels":false,"title":null}},"y2":{"field":"l"}}},
{"data":{"name":"tone"},"transform":[{"filter":"datum.p=='e'"}],"mark":{"type":"rule","color":"#777","strokeWidth":1},"encoding":{"x":{"field":"f","type":"quantitative","axis":null},"y":{"field":"y1","type":"quantitative","axis":null},"y2":{"field":"y2"}}}
]},
{"width":237,"height":174,"title":{"text":"(f) Iteration2: output","orient":"bottom","offset":4},"resolve":{"axis":{"x":"independent","y":"independent"}},"layer":[
{"data":{"name":"band"},"transform":[{"filter":"datum.p=='f'||datum.p=='z'"}],"mark":{"type":"rule","color":"#4d4d4d","strokeWidth":0.9},"encoding":{"x":{"field":"f","type":"quantitative","scale":{"domain":[-40,40],"nice":false,"zero":false},"axis":{"orient":"bottom","values":[-40,-20,0,20,40],"title":"Frequency (GHz)","labelPadding":10,"titlePadding":6}},"y":{"field":"l","type":"quantitative","scale":{"domain":[-40,60],"nice":false,"zero":false},"axis":{"orient":"left","values":[-40,-20,0,20,40,60],"title":"Power (dBm)","labelPadding":7,"titlePadding":6}},"y2":{"field":"s"}}},
{"data":{"name":"band"},"transform":[{"filter":"datum.p=='f'||datum.p=='z'"}],"mark":{"type":"area","color":"#000","interpolate":"linear"},"encoding":{"x":{"field":"f","type":"quantitative","axis":{"orient":"top","values":[-40,-20,0,20,40],"labels":false,"title":null}},"y":{"field":"h","type":"quantitative","axis":{"orient":"right","values":[-40,-20,0,20,40,60],"labels":false,"title":null}},"y2":{"field":"l"}}},
{"data":{"name":"tone"},"transform":[{"filter":"datum.p=='f'"}],"mark":{"type":"rule","color":"#999","strokeWidth":1},"encoding":{"x":{"field":"f","type":"quantitative","axis":null},"y":{"field":"y1","type":"quantitative","axis":null},"y2":{"field":"y2"}}}
]},
{"width":238,"height":174,"title":{"text":"(g) Iteration5: output","orient":"bottom","offset":4},"resolve":{"axis":{"x":"independent","y":"independent"}},"layer":[
{"data":{"name":"band"},"transform":[{"filter":"datum.p=='g'||datum.p=='z'"}],"mark":{"type":"rule","color":"#4d4d4d","strokeWidth":0.9},"encoding":{"x":{"field":"f","type":"quantitative","scale":{"domain":[-40,40],"nice":false,"zero":false},"axis":{"orient":"bottom","values":[-40,-20,0,20,40],"title":"Frequency (GHz)","labelPadding":10,"titlePadding":6}},"y":{"field":"l","type":"quantitative","scale":{"domain":[-40,60],"nice":false,"zero":false},"axis":{"orient":"left","values":[-40,-20,0,20,40,60],"title":"Power (dBm)","labelPadding":7,"titlePadding":6}},"y2":{"field":"s"}}},
{"data":{"name":"band"},"transform":[{"filter":"datum.p=='g'||datum.p=='z'"}],"mark":{"type":"area","color":"#000","interpolate":"linear"},"encoding":{"x":{"field":"f","type":"quantitative","axis":{"orient":"top","values":[-40,-20,0,20,40],"labels":false,"title":null}},"y":{"field":"h","type":"quantitative","axis":{"orient":"right","values":[-40,-20,0,20,40,60],"labels":false,"title":null}},"y2":{"field":"l"}}},
{"data":{"name":"tone"},"transform":[{"filter":"datum.p=='g'"}],"mark":{"type":"rule","color":"#999","strokeWidth":1},"encoding":{"x":{"field":"f","type":"quantitative","axis":null},"y":{"field":"y1","type":"quantitative","axis":null},"y2":{"field":"y2"}}}
]},
{"width":239,"height":174,"title":{"text":"(h) Iteration7: output","orient":"bottom","offset":4},"resolve":{"axis":{"x":"independent","y":"independent"}},"layer":[
{"data":{"name":"band"},"transform":[{"filter":"datum.p=='h'||datum.p=='z'"}],"mark":{"type":"rule","color":"#4d4d4d","strokeWidth":0.9},"encoding":{"x":{"field":"f","type":"quantitative","scale":{"domain":[-40,40],"nice":false,"zero":false},"axis":{"orient":"bottom","values":[-40,-20,0,20,40],"title":"Frequency (GHz)","labelPadding":10,"titlePadding":6}},"y":{"field":"l","type":"quantitative","scale":{"domain":[-40,60],"nice":false,"zero":false},"axis":{"orient":"left","values":[-40,-20,0,20,40,60],"title":"Power (dBm)","labelPadding":7,"titlePadding":6}},"y2":{"field":"s"}}},
{"data":{"name":"band"},"transform":[{"filter":"datum.p=='h'||datum.p=='z'"}],"mark":{"type":"area","color":"#000","interpolate":"linear"},"encoding":{"x":{"field":"f","type":"quantitative","axis":{"orient":"top","values":[-40,-20,0,20,40],"labels":false,"title":null}},"y":{"field":"h","type":"quantitative","axis":{"orient":"right","values":[-40,-20,0,20,40,60],"labels":false,"title":null}},"y2":{"field":"l"}}},
{"data":{"name":"tone"},"transform":[{"filter":"datum.p=='h'"}],"mark":{"type":"rule","color":"#999","strokeWidth":1},"encoding":{"x":{"field":"f","type":"quantitative","axis":null},"y":{"field":"y1","type":"quantitative","axis":null},"y2":{"field":"y2"}}}
]}
],"spacing":2}
],"spacing":2
}
